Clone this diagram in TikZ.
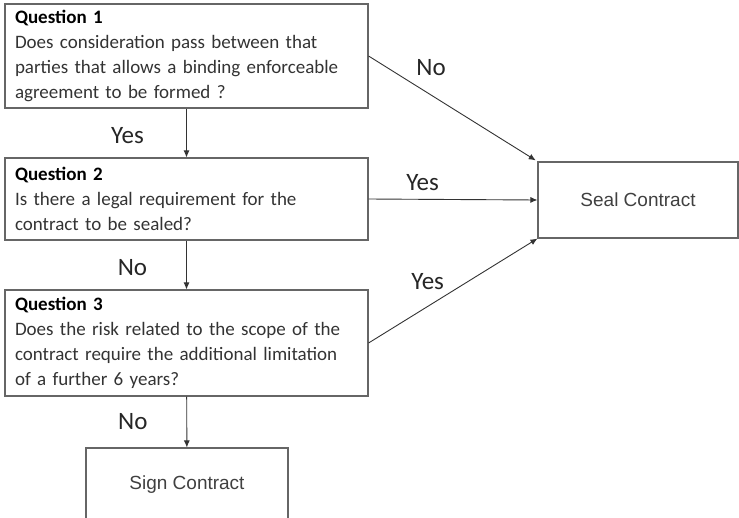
\documentclass[tikz,border=0pt]{standalone}
\usepackage{fontspec}
\setmainfont{Carlito}
\newfontfamily\arialfont{Liberation Sans}
\usetikzlibrary{arrows.meta}

\begin{document}
\begin{tikzpicture}[x=1pt,y=-1pt]
    \tikzstyle{question} = [draw=black!60,line width=1.1pt,text=black!80,align=left,
                            text width=343pt,inner xsep=10pt,inner ysep=0pt,
                            font=\fontsize{19}{25}\selectfont]
    \tikzstyle{outcome} = [draw=black!60,line width=1.1pt,text=black!75,
                           font=\arialfont\fontsize{19}{23}\selectfont]
    \tikzstyle{flow} = [draw=black!80,line width=.9pt,-{Latex[length=7pt,width=6pt]}]
    \tikzstyle{ans} = [font=\fontsize{25}{30}\selectfont,text=black!85]

    \useasboundingbox (0,0) rectangle (739,517);

    \node[question,minimum height=104pt] (q1) at (186.5,56)
        {\textbf{\textcolor{black}{Question 1}}\\Does consideration pass between that\\
         parties that allows a binding enforceable\\agreement to be formed ?};
    \node[question,minimum height=82pt] (q2) at (186.5,199)
        {\textbf{\textcolor{black}{Question 2}}\\Is there a legal requirement for the\\
         contract to be sealed?};
    \node[question,minimum height=106pt] (q3) at (186.5,343)
        {\textbf{\textcolor{black}{Question 3}}\\Does the risk related to the scope of the\\
         contract require the additional limitation\\of a further 6 years?};
    \node[outcome,minimum width=200pt,minimum height=76pt] (seal) at (638,200) {Seal Contract};
    \node[outcome,minimum width=202pt,minimum height=74pt] (sign) at (187,485) {Sign Contract};

    % yes/no branches
    \draw[flow] (q1) -- (q2) node[ans,pos=.55,xshift=-59pt] {Yes};
    \draw[flow] (q2) -- (q3) node[ans,pos=.56,xshift=-54pt] {No};
    \draw[flow] (q3) -- (sign) node[ans,pos=.5,xshift=-54pt] {No};
    \draw[flow,shorten >=2pt] (q1.east) -- (seal.north west)
        node[ans,pos=.37,yshift=27pt] {No};
    \draw[flow] (q2.east) -- (seal.west) node[ans,pos=.32,yshift=17pt] {Yes};
    \draw[flow] (q3.east) -- (seal.south west) node[ans,pos=.35,yshift=25pt] {Yes};
\end{tikzpicture}
\end{document}
